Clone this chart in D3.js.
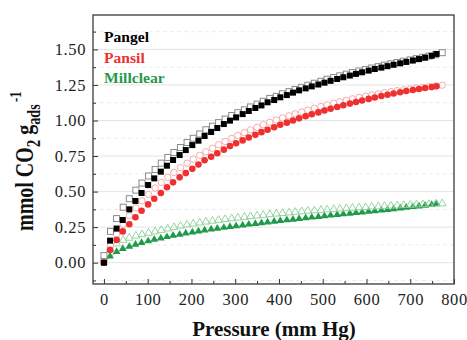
<!DOCTYPE html>
<html><head><meta charset="utf-8">
<script src="https://cdn.jsdelivr.net/npm/d3@7"></script>
<style>body{margin:0;background:#fff}svg{display:block}</style>
</head><body>
<svg id="c" width="467" height="340"></svg>
<script>
const pressureAds = [0,14,29,43,58,72,86,101,115,130,144,158,173,187,202,216,230,245,259,274,288,302,317,331,346,360,374,389,403,418,432,446,461,475,490,504,518,533,547,562,576,590,605,619,634,648,662,677,691,706,720,734,749,760];
const pressureDes = [0,15,29,44,58,73,87,102,117,131,146,160,175,190,204,219,233,248,262,277,292,306,321,335,350,364,379,394,408,423,437,452,466,481,496,510,525,539,554,568,583,598,612,627,641,656,670,685,700,714,729,743,758,773];
const pangelAds = [0,0.155,0.24,0.30,0.375,0.434,0.49,0.546,0.593,0.64,0.682,0.722,0.757,0.792,0.827,0.858,0.891,0.919,0.947,0.975,0.999,1.022,1.045,1.067,1.088,1.106,1.128,1.144,1.163,1.179,1.196,1.212,1.226,1.240,1.253,1.266,1.279,1.292,1.304,1.316,1.328,1.339,1.351,1.362,1.372,1.382,1.392,1.402,1.412,1.422,1.432,1.442,1.455,1.468];
const pangelDes = [0.05,0.22,0.31,0.39,0.45,0.51,0.56,0.61,0.655,0.70,0.74,0.775,0.81,0.845,0.875,0.905,0.935,0.96,0.985,1.01,1.035,1.055,1.075,1.095,1.115,1.135,1.155,1.17,1.188,1.203,1.218,1.233,1.248,1.262,1.276,1.29,1.302,1.314,1.326,1.337,1.348,1.359,1.369,1.379,1.389,1.399,1.408,1.417,1.426,1.435,1.444,1.453,1.463,1.477];
const pansilAds = [0,0.09,0.16,0.22,0.27,0.32,0.365,0.41,0.45,0.49,0.53,0.565,0.60,0.63,0.66,0.69,0.72,0.745,0.77,0.795,0.82,0.84,0.86,0.88,0.90,0.918,0.935,0.953,0.97,0.985,1.0,1.015,1.03,1.044,1.057,1.07,1.083,1.095,1.107,1.119,1.13,1.141,1.152,1.162,1.172,1.181,1.19,1.199,1.207,1.215,1.222,1.229,1.235,1.241];
const pansilDes = [0.02,0.12,0.20,0.27,0.33,0.385,0.435,0.48,0.525,0.565,0.60,0.635,0.668,0.70,0.728,0.755,0.78,0.805,0.83,0.852,0.874,0.895,0.915,0.934,0.952,0.97,0.987,1.003,1.018,1.033,1.047,1.06,1.073,1.086,1.098,1.11,1.121,1.132,1.142,1.152,1.162,1.171,1.18,1.188,1.196,1.203,1.21,1.216,1.222,1.228,1.233,1.238,1.243,1.248];
const millclearAds = [0,0.042,0.073,0.094,0.11,0.124,0.136,0.148,0.159,0.169,0.178,0.187,0.195,0.203,0.21,0.217,0.224,0.231,0.237,0.243,0.249,0.255,0.26,0.266,0.271,0.276,0.281,0.286,0.291,0.296,0.30,0.305,0.31,0.315,0.32,0.325,0.33,0.334,0.338,0.342,0.347,0.351,0.356,0.36,0.365,0.369,0.374,0.379,0.384,0.389,0.394,0.399,0.404,0.41];
const millclearDes = [0.02,0.09,0.13,0.155,0.17,0.185,0.195,0.205,0.215,0.225,0.235,0.245,0.255,0.263,0.27,0.277,0.284,0.29,0.296,0.302,0.307,0.312,0.317,0.322,0.327,0.331,0.336,0.34,0.344,0.348,0.352,0.356,0.36,0.363,0.366,0.369,0.372,0.375,0.378,0.381,0.384,0.386,0.389,0.391,0.394,0.396,0.398,0.40,0.402,0.404,0.406,0.408,0.41,0.412];
const xTicks = [0,100,200,300,400,500,600,700,800];
const xMinorTicks = [50,150,250,350,450,550,650,750];
const yTicks = [0,0.25,0.5,0.75,1.0,1.25,1.5];
const yMinorTicks = [-0.125,0.125,0.375,0.625,0.875,1.125,1.375,1.625];
const legendNames = ["Pangel","Pansil","Millclear"];

const svg = d3.select("#c");
const L = 93, R = 454, T = 15, B = 284;
const x = d3.scaleLinear().domain([-25, 800]).range([L, R]);
const y = d3.scaleLinear().domain([-0.15, 1.742]).range([B, T]);
const serif = "'Liberation Serif','Times New Roman',serif";

// grid
svg.append("g").selectAll("line").data(yMinorTicks).join("line")
  .attr("x1", L).attr("x2", R).attr("y1", d => y(d)).attr("y2", d => y(d))
  .attr("stroke", "#ececec").attr("stroke-width", 1).attr("stroke-dasharray", "4,3");
svg.append("g").selectAll("line").data(yTicks).join("line")
  .attr("x1", L).attr("x2", R).attr("y1", d => y(d)).attr("y2", d => y(d))
  .attr("stroke", "#e4e4e4").attr("stroke-width", 1);

// axes (inside ticks)
const xAxis = d3.axisBottom(x).tickValues(xTicks).tickSize(-5).tickPadding(9).tickFormat(d3.format("d"));
const gx = svg.append("g").attr("transform", `translate(0,${B})`).call(xAxis);
gx.select(".domain").remove();
gx.selectAll("line").attr("stroke", "#333");
gx.selectAll("text").attr("font-family", serif).attr("font-size", 16.5).attr("letter-spacing", 0.6).attr("fill", "#222");
const gxm = svg.append("g").attr("transform", `translate(0,${B})`).call(d3.axisBottom(x).tickValues(xMinorTicks).tickSize(-3).tickFormat(""));
gxm.select(".domain").remove(); gxm.selectAll("line").attr("stroke", "#333");

const yAxis = d3.axisLeft(y).tickValues(yTicks).tickSize(-5).tickPadding(7).tickFormat(d3.format(".2f"));
const gy = svg.append("g").attr("transform", `translate(${L},0)`).call(yAxis);
gy.select(".domain").remove();
gy.selectAll("line").attr("stroke", "#333");
gy.selectAll("text").attr("font-family", serif).attr("font-size", 16.5).attr("letter-spacing", 0.6).attr("fill", "#222");
const gym = svg.append("g").attr("transform", `translate(${L},0)`).call(d3.axisLeft(y).tickValues(yMinorTicks).tickSize(-3).tickFormat(""));
gym.select(".domain").remove(); gym.selectAll("line").attr("stroke", "#333");

// frame
svg.append("rect").attr("x", L).attr("y", T).attr("width", R - L).attr("height", B - T)
  .attr("fill", "none").attr("stroke", "#3a3a3a").attr("stroke-width", 1.3);

const plot = svg.append("g");
const zip = (ps, vs) => ps.map((p, i) => [p, vs[i]]);

// Millclear
plot.append("path").datum(zip(pressureAds, millclearAds))
  .attr("d", d3.line().x(d => x(d[0])).y(d => y(d[1])))
  .attr("fill", "none").attr("stroke", "#9fd6aa").attr("stroke-width", 1.2);
const tri = d3.symbol().type(d3.symbolTriangle).size(26);
plot.append("g").selectAll("path").data(zip(pressureAds, millclearAds)).join("path")
  .attr("d", tri).attr("transform", d => `translate(${x(d[0])},${y(d[1]) - 0.5})`)
  .attr("fill", "#1f9a4a");
plot.append("g").selectAll("path").data(zip(pressureDes, millclearDes)).join("path")
  .attr("d", tri).attr("transform", d => `translate(${x(d[0])},${y(d[1]) - 0.5})`)
  .attr("fill", "none").attr("stroke", "#8ccf9a").attr("stroke-width", 0.9);

// Pansil
plot.append("g").selectAll("circle").data(zip(pressureDes, pansilDes)).join("circle")
  .attr("cx", d => x(d[0])).attr("cy", d => y(d[1])).attr("r", 3.2)
  .attr("fill", "#fff").attr("stroke", "#f4a3a3").attr("stroke-width", 0.9);
plot.append("g").selectAll("circle").data(zip(pressureAds, pansilAds)).join("circle")
  .attr("cx", d => x(d[0])).attr("cy", d => y(d[1])).attr("r", 3.3)
  .attr("fill", "#ee3030");

// Pangel
plot.append("g").selectAll("rect").data(zip(pressureDes, pangelDes)).join("rect")
  .attr("x", d => x(d[0]) - 3).attr("y", d => y(d[1]) - 3).attr("width", 6).attr("height", 6)
  .attr("fill", "#fff").attr("stroke", "#8a8a8a").attr("stroke-width", 1);
plot.append("g").selectAll("rect").data(zip(pressureAds, pangelAds)).join("rect")
  .attr("x", d => x(d[0]) - 3).attr("y", d => y(d[1]) - 3).attr("width", 6).attr("height", 6)
  .attr("fill", "#000");

// legend
const legColors = ["#000000", "#ee3030", "#1f9a4a"];
svg.append("g").selectAll("text").data(legendNames).join("text")
  .attr("x", 104).attr("y", (d, i) => 42 + i * 20.5)
  .attr("font-family", serif).attr("font-weight", "bold").attr("font-size", 15.6)
  .attr("fill", (d, i) => legColors[i]).text(d => d);

// axis titles
svg.append("text").attr("x", 274).attr("y", 336).attr("text-anchor", "middle")
  .attr("font-family", serif).attr("font-weight", "bold").attr("font-size", 21)
  .attr("fill", "#111").text("Pressure (mm Hg)");

const yt = svg.append("text").attr("transform", "translate(33.3,231) rotate(-90) scale(1,1.28)")
  .attr("font-family", serif).attr("font-weight", "bold").attr("font-size", 20).attr("fill", "#111");
yt.append("tspan").text("mmol CO");
yt.append("tspan").attr("font-size", 15).attr("dy", 5.2).text("2");
yt.append("tspan").attr("dy", -5.2).text(" g");
yt.append("tspan").attr("font-size", 14).attr("dy", 5.2).text("ads");
yt.append("tspan").attr("font-size", 12.5).attr("dy", -15.2).attr("dx", 2.5).text("-1");
</script>
</body></html>
